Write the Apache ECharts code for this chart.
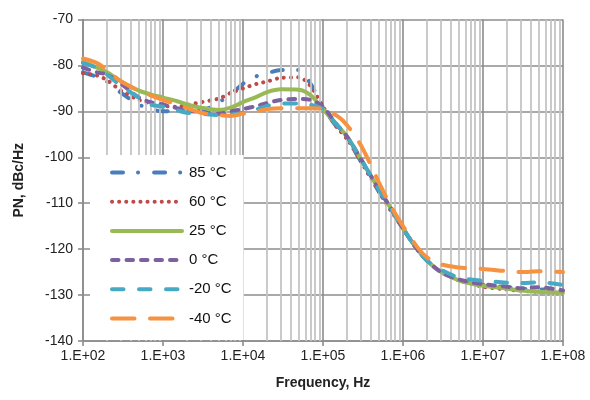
<!DOCTYPE html>
<html>
<head>
<meta charset="utf-8">
<script src="https://cdn.jsdelivr.net/npm/echarts@6/dist/echarts.min.js"></script>
<style>html,body{margin:0;padding:0;background:#fff}#c{width:590px;height:400px}</style>
</head>
<body>
<div id="c"></div>
<script>
var freq = [100,150,200,300,500,700,1000,1500,2000,3000,5000,7000,1e4,1.5e4,2e4,3e4,5e4,7e4,1e5,1.5e5,2e5,3e5,5e5,7e5,1e6,1.5e6,2e6,3e6,5e6,7e6,1e7,2e7,3e7,5e7,1e8];
var s85  = [-81.5,-82.5,-83.5,-86,-88.5,-89.5,-90,-89.8,-89.6,-89.8,-88,-86.3,-84,-82.3,-81.7,-81,-81,-84,-89,-93.5,-96,-101,-107.5,-111.5,-115.5,-120,-122.5,-125,-126.8,-127.3,-127.8,-128.3,-128.6,-128.8,-128.8];
var s60  = [-81.7,-82.2,-83.2,-85.5,-87.5,-88.3,-88.8,-89,-88.6,-88,-87.2,-86,-85,-84,-83.5,-82.7,-82.6,-84.5,-89,-93.5,-96,-101,-107.5,-111.5,-115.5,-120,-122.5,-125,-126.8,-127.5,-128.2,-128.8,-129.1,-129.3,-129.5];
var s25  = [-79.2,-80.5,-81.5,-83.5,-85.5,-86.3,-87,-87.8,-88.5,-89.2,-89.7,-89.2,-88,-86.8,-85.8,-85.2,-85.3,-86.5,-89.5,-93,-95.5,-100.5,-107,-111,-115.5,-120,-122.5,-125,-126.8,-127.5,-128,-128.6,-129,-129.3,-129.5];
var s0   = [-80.5,-81.5,-82,-84,-87,-88,-88.5,-89.3,-89.8,-90.2,-90.5,-90,-89.5,-88.8,-88.2,-87.5,-87.3,-87.5,-89,-93,-95.5,-100.5,-107,-111,-115.5,-120,-122.5,-125,-126.6,-127.2,-127.6,-128.2,-128.5,-128.3,-129];
var sm20 = [-79.5,-80.5,-82,-84.5,-87,-88.5,-89,-89.8,-90.3,-90.5,-90.8,-90.7,-90.3,-89.5,-88.8,-88.3,-88.3,-88.6,-89.5,-93,-95.5,-100.5,-107,-111,-115.5,-120,-122.5,-124.5,-126.2,-126.6,-126.9,-127.3,-127.4,-127.2,-127.8];
var sm40 = [-78.5,-79.5,-81,-83.5,-85.5,-86.5,-87.5,-88.5,-89.3,-90.3,-90.8,-91,-90.5,-90,-89.5,-89.3,-89.3,-89.3,-89.5,-91,-93,-97.5,-105.5,-110.5,-115,-119.5,-121.8,-123.3,-124,-124.2,-124.3,-124.8,-125,-124.8,-125];
var names = ['85 °C','60 °C','25 °C','0 °C','-20 °C','-40 °C'];
var colors = ['#4A7EBB','#BE4B48','#98B954','#7D60A0','#46AAC5','#F69240'];
var dashes = [[11,15,0.1,16],[0.1,7],'solid',[6.5,8],[11.5,15.5],[22.5,15.5]];
var allData = [s85,s60,s25,s0,sm20,sm40];

// minor log grid positions (2..9 within each decade)
var minorVals = [];
for (var k = 2; k < 8; k++) for (var d = 2; d <= 9; d++) minorVals.push(d * Math.pow(10, k));

var series = [{
  type: 'line', name: '_grid', data: [], z: 1, silent: true,
  markLine: {
    silent: true, symbol: 'none', label: {show: false}, animation: false,
    lineStyle: {color: '#c4c4c4', width: 1.8, type: 'solid'},
    data: minorVals.map(function (v) { return {xAxis: v}; })
  }
}];
allData.forEach(function (arr, i) {
  series.push({
    type: 'line', name: names[i], z: 3 + i,
    data: freq.map(function (f, j) { return [f, arr[j]]; }),
    symbol: 'none', showSymbol: false, smooth: 0.3, animation: false,
    lineStyle: {color: colors[i], width: 4, type: dashes[i], cap: 'round'},
    itemStyle: {color: colors[i]}
  });
});

var chart = echarts.init(document.getElementById('c'), null, {renderer: 'canvas'});
chart.setOption({
  animation: false,
  backgroundColor: '#fff',
  textStyle: {fontFamily: 'Liberation Sans'},
  grid: {left: 83, right: 27, top: 19.5, bottom: 59, containLabel: false},
  xAxis: {
    type: 'log', logBase: 10, min: 100, max: 1e8,
    name: 'Frequency, Hz', nameLocation: 'middle', nameGap: 35,
    nameTextStyle: {fontWeight: 'bold', fontSize: 14, color: '#222', fontFamily: 'Liberation Sans'},
    axisLine: {lineStyle: {color: '#8c8c8c', width: 1.6}},
    axisTick: {show: true, length: 5, lineStyle: {color: '#8c8c8c', width: 1.6}},
    axisLabel: {fontSize: 14, color: '#222', margin: 8,
      formatter: function (v) { return '1.E+' + String(Math.round(Math.log10(v))).padStart(2, '0'); }},
    splitLine: {show: true, lineStyle: {color: '#8c8c8c', width: 1.6}}
  },
  yAxis: {
    type: 'value', min: -140, max: -70, interval: 10,
    name: 'PN, dBc/Hz', nameLocation: 'middle', nameGap: 57, nameRotate: 90,
    nameTextStyle: {fontWeight: 'bold', fontSize: 14, color: '#222', fontFamily: 'Liberation Sans'},
    axisLine: {show: true, lineStyle: {color: '#8c8c8c', width: 1.6}},
    axisTick: {show: true, length: 5, lineStyle: {color: '#8c8c8c', width: 1.6}},
    axisLabel: {fontSize: 14, color: '#222', margin: 10},
    splitLine: {show: true, lineStyle: {color: '#8c8c8c', width: 1.6}}
  },
  legend: {
    data: names, orient: 'vertical', left: 90, top: 155,
    backgroundColor: '#fff', padding: [10, 12, 14, 20],
    itemWidth: 70, itemHeight: 14, itemGap: 14.2,
    itemStyle: {opacity: 0},
    lineStyle: {width: 4, cap: 'round'},
    textStyle: {fontSize: 15, color: '#111', fontFamily: 'Liberation Sans', padding: [0, 0, 0, 2]},
    z: 10
  },
  series: series
});
</script>
</body>
</html>
